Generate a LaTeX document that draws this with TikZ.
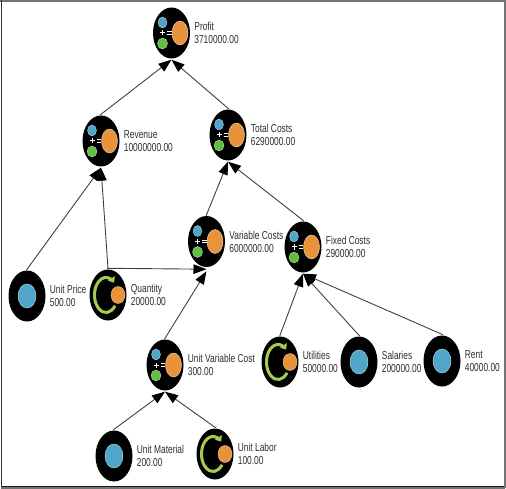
\documentclass[tikz,border=0pt]{standalone}
\usepackage{fontspec}
\setmainfont[FakeStretch=0.73]{Liberation Sans}
\usepackage{xcolor}
\usetikzlibrary{arrows.meta,positioning,shapes.geometric}
\definecolor{iconblue}{HTML}{4FA6C9}
\definecolor{icongreen}{HTML}{5FBF3F}
\definecolor{iconorange}{HTML}{E8923A}
\definecolor{loopgreen}{HTML}{A6CB52}
\definecolor{textgray}{HTML}{2E2E2E}
\tikzset{
	basenode/.style={ellipse,fill=black,minimum width=37pt,minimum height=51pt,inner sep=0pt,outer sep=1.2pt},
	calcnode/.style={basenode,path picture={
		\begin{scope}[shift={(path picture bounding box.center)}]
			\fill[iconblue,draw=white!70!iconblue,line width=0.3pt] (-9,10.5) ellipse (4.5 and 5.5);
			\fill[icongreen,draw=white!70!icongreen,line width=0.3pt] (-9,-10.5) ellipse (5 and 5.5);
			\fill[iconorange,draw=white!70!iconorange,line width=0.4pt] (8.5,0) ellipse (8 and 12);
			\draw[white,line width=1pt] (-11.5,0) -- (-6.5,0) (-9,-2.5) -- (-9,2.5);
			\draw[white,line width=0.9pt] (-4.5,1.3) -- (0,1.3) (-4.5,-1.3) -- (0,-1.3);
		\end{scope}}},
	inputnode/.style={basenode,path picture={
		\fill[iconblue,draw=white!70!iconblue,line width=0.4pt] (path picture bounding box.center) ellipse (9 and 12);}},
	loopnode/.style={basenode,path picture={
		\begin{scope}[shift={(path picture bounding box.center)}]
			\draw[loopgreen,line width=3pt,-{Triangle[length=5pt,width=8pt]}] (-2,0) ++(-38:11.5 and 17.5) arc [start angle=-38,end angle=-315,x radius=11.5,y radius=17.5];
			\fill[iconorange,draw=white!70!iconorange,line width=0.3pt] (10,0) ellipse (7 and 8.5);
		\end{scope}}},
	nametext/.style={inner sep=0pt,align=left,text=textgray,font=\fontsize{11.5}{13}\selectfont},
	linkarrow/.style={draw=black!75,line width=0.9pt,shorten <=-1pt,-{Triangle[length=13pt,width=9.5pt,color=black]}},
}

\begin{document}
\begin{tikzpicture}[x=1pt,y=1pt]
	\useasboundingbox (0,0) rectangle (506,-489);
	
	% frame
	\draw[black!55,line width=2pt] (0,-1) -- (504.5,-1) -- (504.5,-488);
	\draw[black!80,line width=1.5pt] (1.5,0) -- (1.5,-487.5);
	\draw[black!55,line width=2pt] (1,-488) -- (505,-488);
	\draw[black!90,line width=1pt] (2,-486.8) -- (504,-486.8);
	
	% calculated values
	\node[calcnode] (profit) at (171.5,-33) {};
	\node[calcnode] (revenue) at (101,-141) {};
	\node[calcnode] (totalcosts) at (228,-135) {};
	\node[calcnode] (varcosts) at (206.5,-241.5) {};
	\node[calcnode] (fixedcosts) at (303,-247) {};
	\node[calcnode] (unitvarcost) at (165,-365) {};
	
	% inputs
	\node[inputnode] (unitprice) at (27,-296) {};
	\node[loopnode] (quantity) at (108,-295) {};
	\node[loopnode] (utilities) at (280,-362) {};
	\node[inputnode] (salaries) at (359,-362) {};
	\node[inputnode] (rent) at (442,-361) {};
	\node[inputnode] (unitmaterial) at (114,-456) {};
	\node[loopnode] (unitlabor) at (215,-454) {};
	
	% labels
	\node[nametext,right=3pt of profit] (profittext) {Profit\\3710000.00};
	\node[nametext,right=3pt of revenue] (revenuetext) {Revenue\\10000000.00};
	\node[nametext,right=3pt of totalcosts] (totalcoststext) {Total Costs\\6290000.00};
	\node[nametext,right=3pt of varcosts] (varcoststext) {Variable Costs\\6000000.00};
	\node[nametext,right=3pt of fixedcosts] (fixedcoststext) {Fixed Costs\\290000.00};
	\node[nametext,right=3pt of unitvarcost] (unitvarcosttext) {Unit Variable Cost\\300.00};
	\node[nametext,right=3pt of unitprice] (unitpricetext) {Unit Price\\500.00};
	\node[nametext,right=3pt of quantity] (quantitytext) {Quantity\\20000.00};
	\node[nametext,right=3pt of utilities] (utilitiestext) {Utilities\\50000.00};
	\node[nametext,right=3pt of salaries] (salariestext) {Salaries\\200000.00};
	\node[nametext,right=3pt of rent] (renttext) {Rent\\40000.00};
	\node[nametext,right=3pt of unitmaterial] (unitmaterialtext) {Unit Material\\200.00};
	\node[nametext,right=3pt of unitlabor] (unitlabortext) {Unit Labor\\100.00};
	
	% links
	\draw[linkarrow] (revenue.north) -- (profit.south);
	\draw[linkarrow] (totalcosts.north) -- (profit.south);
	\draw[linkarrow] (unitprice.north) -- (revenue.south);
	\draw[linkarrow] (quantity.north) -- (revenue.south);
	\draw[linkarrow] (quantity.north) -- ([yshift=-1pt]varcosts.south);
	\draw[linkarrow] (varcosts.north) -- (totalcosts.south);
	\draw[linkarrow] (fixedcosts.north) -- (totalcosts.south);
	\draw[linkarrow] (unitvarcost.north) -- ([yshift=-3pt]varcosts.south);
	\draw[linkarrow] (utilities.north) -- (fixedcosts.south);
	\draw[linkarrow] (salaries.north) -- (fixedcosts.south);
	\draw[linkarrow] (rent.north) -- (fixedcosts.south);
	\draw[linkarrow] (unitmaterial.north) -- (unitvarcost.south);
	\draw[linkarrow] (unitlabor.north) -- (unitvarcost.south);
	
\end{tikzpicture}
\end{document}
